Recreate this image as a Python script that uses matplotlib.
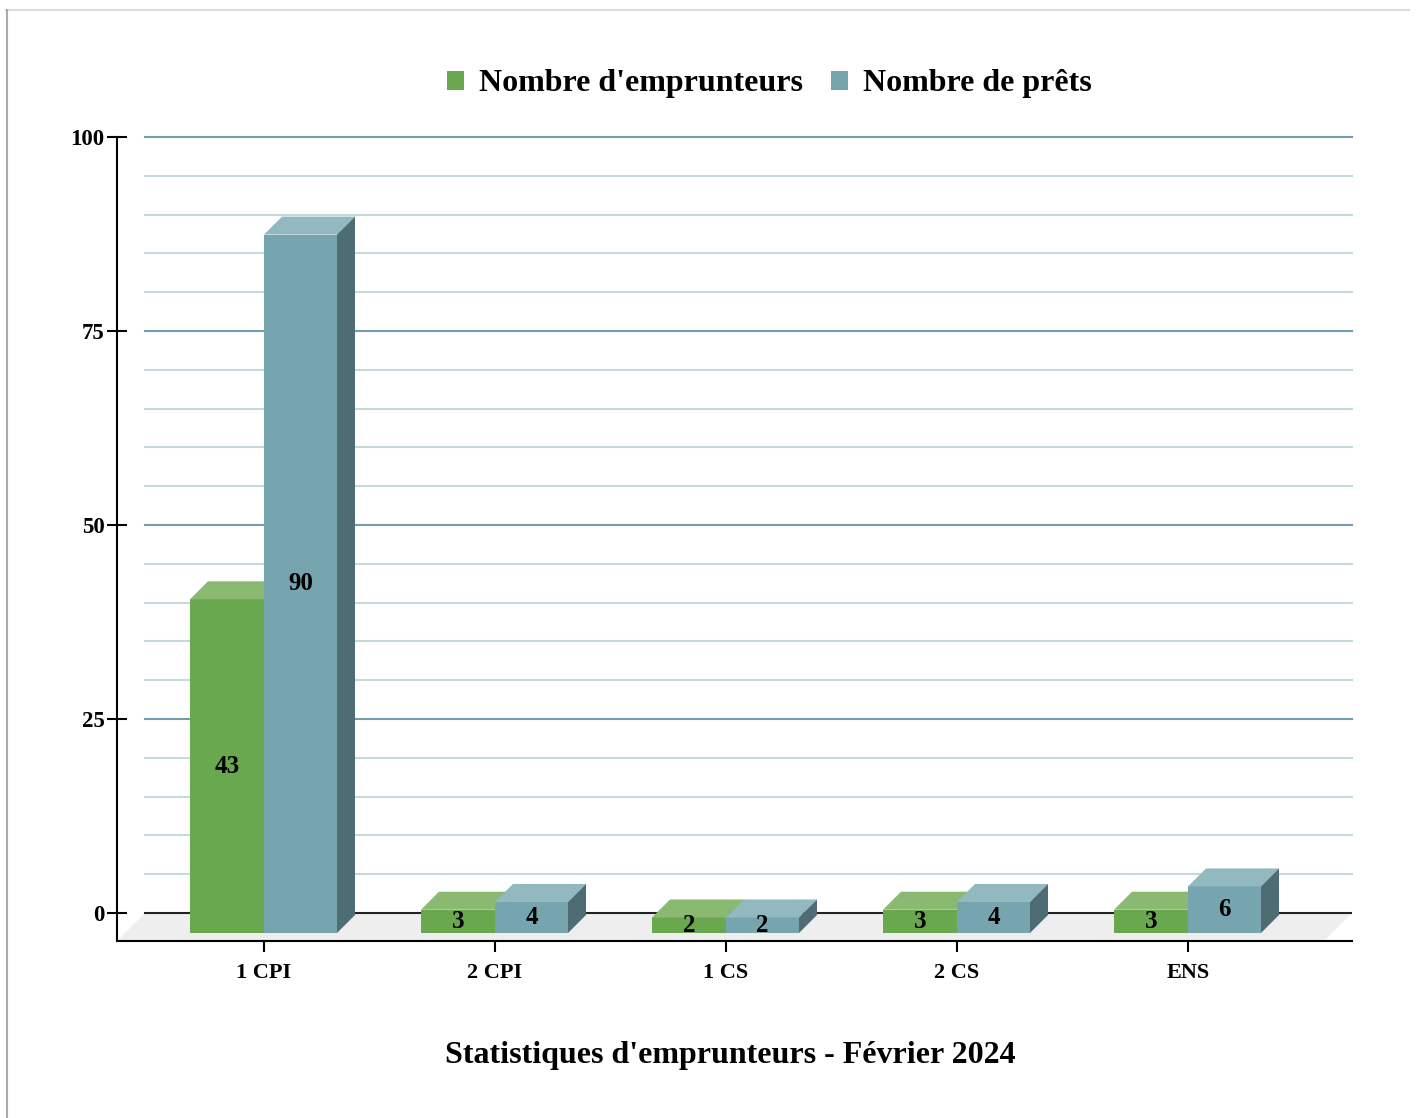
import matplotlib.pyplot as plt
from matplotlib.patches import Polygon, Patch
from matplotlib.lines import Line2D

# --- DATA ---
categories = ["1 CPI", "2 CPI", "1 CS", "2 CS", "ENS"]
emprunteurs = [43, 3, 2, 3, 3]
prets = [90, 4, 2, 4, 6]
series_names = ["Nombre d'emprunteurs", "Nombre de prêts"]
title = "Statistiques d'emprunteurs - Février 2024"
y_ticks = [0, 25, 50, 75, 100]

# --- STYLE ---
green = {"front": "#6aa84f", "top": "#8aba72", "side": "#4f7f3a"}
blue = {"front": "#76a5af", "top": "#93b9c0", "side": "#4e6c73"}
plt.rcParams['font.family'] = ['Liberation Serif', 'DejaVu Serif']
plt.rcParams['font.weight'] = 'bold'

W, H = 1416, 1118
fig = plt.figure(figsize=(W / 100, H / 100), dpi=100)

# axes box = front plane of the floor (pixels measured from top-left)
left, right, top, bottom = 117, 1352, 137, 941
ax = fig.add_axes([left / W, (H - bottom) / H, (right - left) / W, (bottom - top) / H])

px_per_y = 7.76          # pixels per value unit
px_per_x = 231.0         # pixels per category step
x0_px = 264              # pixel of first category tick
floor_depth = 28         # px depth of the floor
ymin = -floor_depth / px_per_y
ax.set_ylim(ymin, 100)
ax.set_xlim((left - x0_px) / px_per_x, (right - x0_px) / px_per_x)

dx = lambda px: px / px_per_x
dy = lambda px: px / px_per_y

# floor
xl, xr = ax.get_xlim()
floor = Polygon([(xl, ymin), (xl + dx(floor_depth), 0), (xr, 0), (xr - dx(floor_depth), ymin)],
                closed=True, facecolor="#eeeeee", edgecolor="none", zorder=0)
ax.add_patch(floor)

# back wall gridlines
gx = dx(floor_depth) / (xr - xl)
for v in range(5, 101, 5):
    major = v % 25 == 0
    ax.axhline(v, xmin=gx, xmax=1, color="#6f9fac" if major else "#c3d9de",
               lw=1.5, zorder=0.5, clip_on=False)
ax.axhline(0, xmin=gx, xmax=1, color="#222222", lw=1.5, zorder=0.6)

# bars
bar_base = -dy(20)
depth = 18
w_g, w_b = dx(74), dx(73)


def draw_bar(x_left, width, value, colors, label):
    ax.bar(x_left, value, width=width, bottom=bar_base, align="edge",
           color=colors["front"], edgecolor="none", zorder=2)
    yt = bar_base + value
    ax.add_patch(Polygon([(x_left, yt), (x_left + dx(depth), yt + dy(depth)),
                          (x_left + width + dx(depth), yt + dy(depth)), (x_left + width, yt)],
                         closed=True, facecolor=colors["top"], edgecolor="none", zorder=2))
    ax.add_patch(Polygon([(x_left + width, bar_base), (x_left + width, yt),
                          (x_left + width + dx(depth), yt + dy(depth)),
                          (x_left + width + dx(depth), bar_base + dy(depth))],
                         closed=True, facecolor=colors["side"], edgecolor="none", zorder=2))
    ax.text(x_left + width / 2, bar_base + value / 2, str(label), ha="center", va="center",
            fontsize=18, fontweight="bold", color="black", zorder=3)


for i in range(len(categories)):
    draw_bar(i - w_g, w_g, emprunteurs[i], green, emprunteurs[i])
    draw_bar(i, w_b, prets[i], blue, prets[i])

# axes styling
for s in ["top", "right"]:
    ax.spines[s].set_visible(False)
ax.spines["left"].set_linewidth(1.5)
ax.spines["bottom"].set_linewidth(1.5)
ax.set_yticks(y_ticks)
ax.set_yticklabels([str(t) for t in y_ticks], fontsize=16.5, fontweight="bold")
ax.tick_params(axis="y", direction="inout", length=14, width=1.5, pad=2)
ax.set_xticks(range(len(categories)))
ax.set_xticklabels(categories, fontsize=16, fontweight="bold")
ax.tick_params(axis="x", direction="out", length=8, width=1.5, pad=8)
ax.set_facecolor("none")

# legend and title
handles = [Patch(facecolor=green["front"]), Patch(facecolor=blue["front"])]
fig.legend(handles, series_names, loc="center", bbox_to_anchor=(769 / W, 1 - 84 / H), ncol=2,
           frameon=False, prop={"size": 23, "weight": "bold"}, handlelength=0.53,
           handleheight=0.53, handletextpad=0.47, columnspacing=0.88)
fig.text(730 / W, 1 - 1055 / H, title, ha="center", va="center", fontsize=23, fontweight="bold")

# figure border
fig.add_artist(Line2D([6 / W, 1409 / W], [1 - 10 / H, 1 - 10 / H], color="#dddddd", lw=1.5))
fig.add_artist(Line2D([6.5 / W, 6.5 / W], [0, 1 - 10 / H], color="#aaaaaa", lw=1.5))

fig.savefig("out.png", dpi=100)
